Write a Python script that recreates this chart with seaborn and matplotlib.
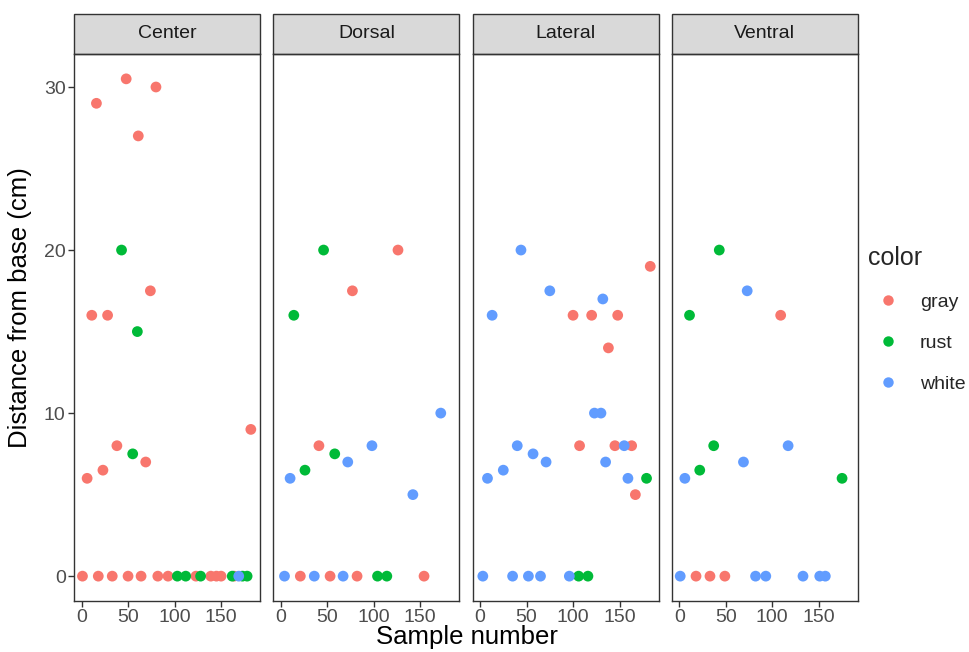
import pandas as pd
import matplotlib.pyplot as plt
import seaborn as sns
from matplotlib.patches import Rectangle
from matplotlib.lines import Line2D

# values, one group of lists per facet
center_sample = [48, 80, 16, 61, 74, 11, 28, 6, 23, 38, 69, 182,
                 1, 18, 33, 50, 64, 82, 93, 123, 139, 145, 150, 164,
                 43, 60, 55, 103, 112, 128, 162, 173, 178,
                 169]
center_distance = [30.5, 30, 29, 27, 17.5, 16, 16, 6, 6.5, 8, 7, 9,
                   0, 0, 0, 0, 0, 0, 0, 0, 0, 0, 0, 0,
                   20, 15, 7.5, 0, 0, 0, 0, 0, 0,
                   0]
center_color = ["gray"] * 24 + ["rust"] * 9 + ["white"]

dorsal_sample = [126, 77, 41, 21, 53, 82, 154,
                 46, 14, 26, 58, 104, 114,
                 10, 72, 98, 142, 172, 4, 36, 67]
dorsal_distance = [20, 17.5, 8, 0, 0, 0, 0,
                   20, 16, 6.5, 7.5, 0, 0,
                   6, 7, 8, 5, 10, 0, 0, 0]
dorsal_color = ["gray"] * 7 + ["rust"] * 6 + ["white"] * 8

lateral_sample = [183, 100, 120, 148, 138, 107, 145, 163, 167,
                  179, 106, 116,
                  44, 75, 132, 13, 123, 130, 40, 155, 57, 71, 135, 25, 8, 159,
                  3, 35, 52, 65, 96]
lateral_distance = [19, 16, 16, 16, 14, 8, 8, 8, 5,
                    6, 0, 0,
                    20, 17.5, 17, 16, 10, 10, 8, 8, 7.5, 7, 7, 6.5, 6, 6,
                    0, 0, 0, 0, 0]
lateral_color = ["gray"] * 9 + ["rust"] * 3 + ["white"] * 19

ventral_sample = [109, 18, 33, 49,
                  43, 11, 37, 22, 175,
                  73, 117, 69, 6, 1, 82, 93, 133, 151, 157]
ventral_distance = [16, 0, 0, 0,
                    20, 16, 8, 6.5, 6,
                    17.5, 8, 7, 6, 0, 0, 0, 0, 0, 0]
ventral_color = ["gray"] * 4 + ["rust"] * 5 + ["white"] * 10

positions = ["Center", "Dorsal", "Lateral", "Ventral"]
color_levels = ["gray", "rust", "white"]
palette = {"gray": "#F8766D", "rust": "#00BA38", "white": "#619CFF"}

frames = []
for pos, xs, ys, cs in [("Center", center_sample, center_distance, center_color),
                        ("Dorsal", dorsal_sample, dorsal_distance, dorsal_color),
                        ("Lateral", lateral_sample, lateral_distance, lateral_color),
                        ("Ventral", ventral_sample, ventral_distance, ventral_color)]:
    frames.append(pd.DataFrame({"position": pos, "sample": xs,
                                "distance": ys, "color": cs}))
data = pd.concat(frames, ignore_index=True)

sns.set_theme(style="white")
plt.rcParams["font.family"] = ["Liberation Sans", "DejaVu Sans"]

g = sns.relplot(data=data, x="sample", y="distance", col="position",
                col_order=positions, hue="color", hue_order=color_levels,
                palette=palette, kind="scatter", s=60, linewidth=0,
                legend=False, height=5, aspect=0.5)
fig = g.figure
fig.set_size_inches(9.7, 6.52)
fig.subplots_adjust(left=0.0763, right=0.8845, bottom=0.0782, top=0.9172,
                    wspace=0.07)

strip_h = 40 / 547
for i, (ax, name) in enumerate(zip(g.axes.flat, positions)):
    ax.set_title("")
    ax.set_xlabel("")
    ax.set_ylabel("")
    ax.set_xticks([0, 50, 100, 150])
    ax.set_yticks([0, 10, 20, 30])
    ax.margins(x=0.05, y=0.05)
    for sp in ax.spines.values():
        sp.set_visible(True)
        sp.set_color("#333333")
        sp.set_linewidth(1.0)
    ax.tick_params(axis="both", length=4, width=1.0, color="#333333",
                   labelsize=14, labelcolor="#4D4D4D", pad=2,
                   bottom=True, left=(i == 0))
    ax.add_patch(Rectangle((0, 1), 1, strip_h, transform=ax.transAxes,
                           facecolor="#D9D9D9", edgecolor="#333333",
                           linewidth=1.0, clip_on=False))
    ax.text(0.5, 1 + strip_h / 2, name, transform=ax.transAxes,
            ha="center", va="center", fontsize=14, color="#1A1A1A")

fig.text(0.481, 0.005, "Sample number", ha="center", va="bottom",
         fontsize=18.5, color="black")
fig.text(0.008, 0.529, "Distance from base (cm)", rotation=90,
         ha="left", va="center", fontsize=18.5, color="black")

handles = [Line2D([], [], marker="o", linestyle="", markersize=7.5,
                  markerfacecolor=palette[c], markeredgewidth=0)
           for c in color_levels]
leg = fig.legend(handles, color_levels, title="color",
                 loc="center left", bbox_to_anchor=(0.879, 0.51),
                 frameon=False, fontsize=14, title_fontsize=18,
                 handletextpad=0.65, labelspacing=1.2, borderpad=0.3)
leg._legend_box.align = "left"

fig.savefig("out.png", dpi=100)
